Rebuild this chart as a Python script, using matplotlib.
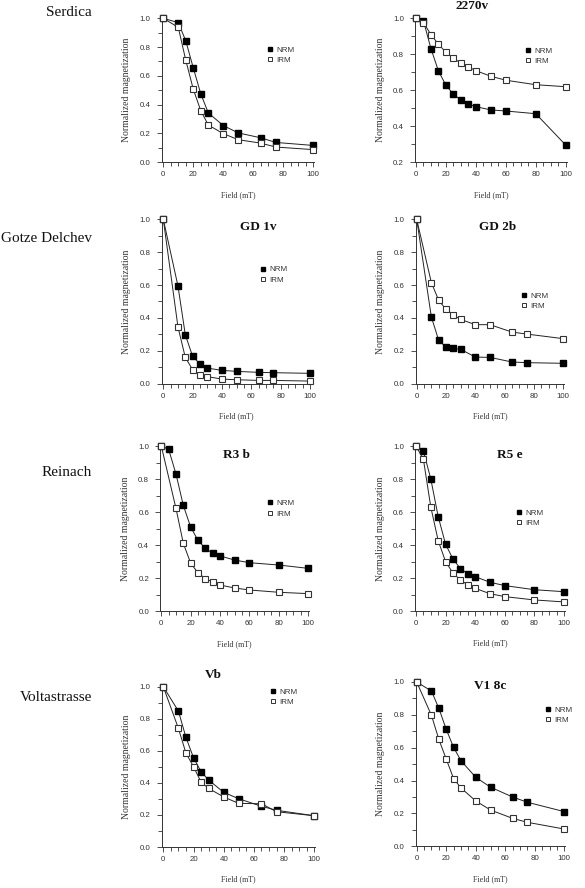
import matplotlib
matplotlib.use("Agg")
import matplotlib.pyplot as plt
from matplotlib.ticker import MultipleLocator

# ---------------- data ----------------
row_labels = ["Serdica", "Gotze Delchev", "Reinach", "Voltastrasse"]
titles = ["2270v", "GD 1v", "GD 2b", "R3 b", "R5 e", "Vb", "V1 8c"]

serdica_x = [0, 10, 15, 20, 25, 30, 40, 50, 65, 75, 100]
serdica_nrm = [1.0, 0.97, 0.843, 0.655, 0.475, 0.343, 0.255, 0.204, 0.17, 0.138, 0.117]
serdica_irm = [1.0, 0.937, 0.708, 0.507, 0.358, 0.259, 0.199, 0.157, 0.133, 0.106, 0.088]

s2270_x = [0, 5, 10, 15, 20, 25, 30, 35, 40, 50, 60, 80, 100]
s2270_nrm = [1.0, 0.985, 0.831, 0.707, 0.628, 0.578, 0.546, 0.524, 0.509, 0.491, 0.485, 0.470, 0.296]
s2270_irm = [1.0, 0.976, 0.909, 0.856, 0.811, 0.778, 0.750, 0.730, 0.709, 0.678, 0.656, 0.631, 0.620]

gd1v_x = [0, 10, 15, 20, 25, 30, 40, 50, 65, 75, 100]
gd1v_nrm = [1.0, 0.594, 0.298, 0.166, 0.12, 0.095, 0.081, 0.075, 0.069, 0.067, 0.063]
gd1v_irm = [1.0, 0.345, 0.16, 0.085, 0.055, 0.043, 0.028, 0.024, 0.02, 0.02, 0.016]

gd2b_x = [0, 10, 15, 20, 25, 30, 40, 50, 65, 75, 100]
gd2b_nrm = [1.0, 0.406, 0.264, 0.223, 0.215, 0.209, 0.162, 0.160, 0.132, 0.128, 0.124]
gd2b_irm = [1.0, 0.615, 0.507, 0.452, 0.418, 0.391, 0.359, 0.359, 0.314, 0.302, 0.274]

r3b_nrm_x = [0, 5, 10, 15, 20, 25, 30, 35, 40, 50, 60, 80, 100]
r3b_nrm = [1.0, 0.98, 0.831, 0.641, 0.510, 0.429, 0.381, 0.351, 0.335, 0.310, 0.294, 0.280, 0.260]
r3b_irm_x = [0, 10, 15, 20, 25, 30, 35, 40, 50, 60, 80, 100]
r3b_irm = [1.0, 0.623, 0.411, 0.292, 0.232, 0.198, 0.177, 0.159, 0.141, 0.129, 0.115, 0.107]

r5e_x = [0, 5, 10, 15, 20, 25, 30, 35, 40, 50, 60, 80, 100]
r5e_nrm = [1.0, 0.97, 0.80, 0.572, 0.404, 0.315, 0.257, 0.226, 0.208, 0.174, 0.154, 0.129, 0.117]
r5e_irm = [1.0, 0.919, 0.63, 0.426, 0.299, 0.230, 0.188, 0.158, 0.137, 0.105, 0.087, 0.067, 0.055]

vb_x = [0, 10, 15, 20, 25, 30, 40, 50, 65, 75, 100]
vb_nrm = [1.0, 0.848, 0.684, 0.557, 0.470, 0.418, 0.341, 0.301, 0.254, 0.229, 0.195]
vb_irm = [1.0, 0.74, 0.586, 0.501, 0.405, 0.366, 0.312, 0.272, 0.270, 0.220, 0.195]

v18c_x = [0, 10, 15, 20, 25, 30, 40, 50, 65, 75, 100]
v18c_nrm = [1.0, 0.945, 0.84, 0.712, 0.602, 0.521, 0.42, 0.36, 0.30, 0.268, 0.211]
v18c_irm = [1.0, 0.797, 0.651, 0.531, 0.412, 0.355, 0.276, 0.221, 0.170, 0.146, 0.105]

# ---------------- layout (pixels) ----------------
W, H = 585, 888
fig = plt.figure(figsize=(W / 100, H / 100), dpi=100)
fig.patch.set_facecolor("white")

SANS = "Liberation Sans"
SERIF = "Liberation Serif"


def make_ax(L, X0, X100, ytop_px, ybot_px, ymin):
    width = X100 + 1 - L
    ax = fig.add_axes([L / W, 1 - ybot_px / H, width / W, (ybot_px - ytop_px) / H])
    scale = 100.0 / (X100 - X0)
    ax.set_xlim(-(X0 - L) * scale, 100 + 1 * scale)
    ax.set_ylim(ymin, 1.0)
    for s in ("top", "right"):
        ax.spines[s].set_visible(False)
    for s in ("left", "bottom"):
        ax.spines[s].set_linewidth(0.7)
        ax.spines[s].set_color("#333333")
    ax.xaxis.set_major_locator(MultipleLocator(20))
    ax.xaxis.set_minor_locator(MultipleLocator(5))
    ax.yaxis.set_major_locator(MultipleLocator(0.2))
    ax.yaxis.set_minor_locator(MultipleLocator(0.1))
    ax.tick_params(which="major", direction="out", length=3.5, width=0.6, colors="#333333",
                   labelsize=5.7, pad=3)
    ax.tick_params(which="minor", direction="out", length=3.0, width=0.6, colors="#333333")
    ax.tick_params(axis="y", which="major", pad=4.5)
    ax.yaxis.set_major_formatter(matplotlib.ticker.FormatStrFormatter("%.1f"))
    for lab in ax.get_xticklabels() + ax.get_yticklabels():
        lab.set_fontfamily(SANS)
        lab.set_color("#333333")
    ax.set_ylabel("Normalized magnetization", fontfamily=SERIF, fontsize=7, color="#333333",
                  labelpad=6)
    ax.set_xlabel("Field (mT)", fontfamily=SERIF, fontsize=5.8, color="#333333", labelpad=9)
    return ax


def draw(ax, xn, yn, xi, yi, leg_x, leg_y):
    ax.plot(xn, yn, color="#222222", lw=0.7, marker="s", ms=4.0, mfc="black", mec="black",
            label="NRM", clip_on=False, zorder=3)
    ax.plot(xi, yi, color="#222222", lw=0.7, marker="s", ms=4.0, mfc="white", mec="#333333",
            mew=0.8, label="IRM", clip_on=False, zorder=3)
    h1 = plt.Line2D([], [], ls="none", marker="s", ms=3.2, mfc="black", mec="black")
    h2 = plt.Line2D([], [], ls="none", marker="s", ms=3.2, mfc="white", mec="#333333", mew=0.7)
    leg = ax.legend([h1, h2], ["NRM", "IRM"], loc="center left",
                    bbox_to_anchor=(leg_x, leg_y), bbox_transform=ax.transData,
                    frameon=False, handlelength=0.6, handletextpad=0.5, labelspacing=0.35,
                    borderpad=0, borderaxespad=0, prop={"family": SANS, "size": 5.8})
    for t in leg.get_texts():
        t.set_color("#333333")


def title(x_px, y_px, text):
    fig.text(x_px / W, 1 - y_px / H, text, ha="center", va="center", fontfamily=SERIF,
             fontweight="bold", fontsize=9.5, color="#111111")


# Row 1
ax1 = make_ax(161.7, 163.3, 313.3, 18.3, 162.3, 0.0)
draw(ax1, serdica_x, serdica_nrm, serdica_x, serdica_irm, 69.5, 0.745)
ax2 = make_ax(415, 416, 565.7, 18.3, 162.3, 0.2)
draw(ax2, s2270_x, s2270_nrm, s2270_x, s2270_irm, 73, 0.79)
title(472, 6, titles[0])

# Row 2
ax3 = make_ax(161.7, 163.3, 310, 219.3, 383.7, 0.0)
draw(ax3, gd1v_x, gd1v_nrm, gd1v_x, gd1v_irm, 66, 0.662)
title(258, 227, titles[1])
ax4 = make_ax(415.7, 416.7, 563.3, 219.3, 383.7, 0.0)
draw(ax4, gd2b_x, gd2b_nrm, gd2b_x, gd2b_irm, 71.5, 0.503)
title(498, 227, titles[2])

# Row 3
ax5 = make_ax(160.3, 161.3, 308, 446, 611.3, 0.0)
draw(ax5, r3b_nrm_x, r3b_nrm, r3b_irm_x, r3b_irm, 72.5, 0.622)
title(236, 455, titles[3])
ax6 = make_ax(415, 416, 564, 446, 611, 0.0)
draw(ax6, r5e_x, r5e_nrm, r5e_x, r5e_irm, 68, 0.562)
title(510, 455, titles[4])

# Row 4
ax7 = make_ax(161.7, 163.3, 314.3, 686.7, 847, 0.0)
draw(ax7, vb_x, vb_nrm, vb_x, vb_irm, 71, 0.936)
title(213, 675, titles[5])
ax8 = make_ax(415.7, 416.7, 564.3, 682, 846.3, 0.0)
draw(ax8, v18c_x, v18c_nrm, v18c_x, v18c_irm, 87.3, 0.798)
title(490, 686, titles[6])

# Row labels
for lab, y in zip(row_labels, [13, 238, 472, 697]):
    fig.text(92 / W, 1 - y / H, lab, ha="right", va="center", fontfamily=SERIF,
             fontsize=11, color="#111111")

fig.savefig("out.png", dpi=100, facecolor="white")
